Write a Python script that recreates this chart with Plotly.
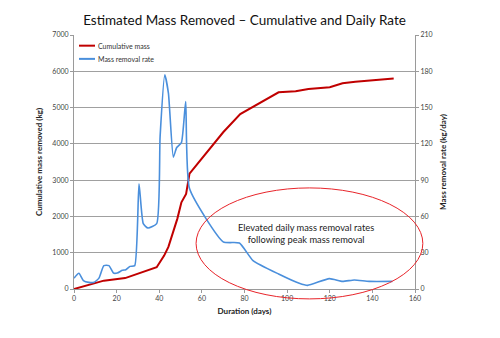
import plotly.graph_objects as go

# Cumulative mass removed (kg)
cum_days = [0, 14, 24, 30.5, 38.8, 42.3, 44.3, 48.5, 50.4, 52.6, 54.2, 70, 78, 96, 104, 110, 120, 126, 132, 150]
cum_mass = [0, 230, 300, 440, 600, 920, 1160, 1940, 2390, 2620, 3180, 4320, 4820, 5420, 5450, 5510, 5560, 5670, 5710, 5800]

# Mass removal rate (kg/day)
rate_days = [0, 2.3, 4.4, 7, 9.4, 11.7, 14, 16.4, 18.5, 20.3, 22.7, 24.3, 26.3, 28.5, 30.5, 32.5, 34.7, 38.8,
             40.4, 42.6, 44.3, 46.6, 48.2, 50.4, 52.4, 54.2, 70, 77.6, 84, 96, 105.7, 109.6, 119.8, 126, 131.5, 138.5, 149.4]
rate_vals = [9, 13, 7, 5.5, 5.5, 9, 19.3, 19.3, 13.2, 13.2, 15.4, 16, 18.7, 19.3, 87, 54, 50.4, 54,
             126, 177, 162, 109, 117, 121, 155, 83, 39, 38, 23.5, 12.4, 4.7, 3, 8.6, 6.3, 7.5, 6.3, 6.3]

x_ticks = [0, 20, 40, 60, 80, 100, 120, 140, 160]
series_names = ["Cumulative mass", "Mass removal rate"]
series_colors = ["#c00000", "#4a8fdc"]
title_text = "Estimated Mass Removed \u2013 Cumulative and Daily Rate"
note_text = "Elevated daily mass removal rates<br>following peak mass removal"

FONT = "Lato"
fig = go.Figure()
fig.add_trace(go.Scatter(x=cum_days, y=cum_mass, mode="lines", name=series_names[0],
                         line=dict(color=series_colors[0], width=2), showlegend=False))
fig.add_trace(go.Scatter(x=rate_days, y=rate_vals, mode="lines", name=series_names[1],
                         line=dict(color=series_colors[1], width=1.6, shape="spline", smoothing=0.5),
                         yaxis="y2", showlegend=False))

# compact legend (Excel style)
leg_y = [0.958, 0.906]
for name, col, ly in zip(series_names, series_colors, leg_y):
    fig.add_shape(type="line", xref="paper", yref="paper", x0=0.0147, x1=0.0616, y0=ly, y1=ly,
                  line=dict(color=col, width=2))
    fig.add_annotation(x=0.064, y=ly, xref="paper", yref="paper", text=name, showarrow=False,
                       xanchor="left", yanchor="middle", font=dict(family=FONT, size=7, color="#333"))

fig.add_shape(type="circle", xref="paper", yref="paper", x0=0.358, x1=1.023, y0=-0.039, y1=0.398,
              line=dict(color="#e8242a", width=1), layer="above")
fig.add_annotation(x=0.68, y=0.22, xref="paper", yref="paper", text=note_text, showarrow=False,
                   xanchor="center", yanchor="middle",
                   font=dict(family=FONT, size=9.3, color="#222"), align="center")

axis_common = dict(showline=True, linecolor="#9a9a9a", linewidth=1, ticks="outside", ticklen=3,
                   tickcolor="#9a9a9a", tickfont=dict(family=FONT, size=7, color="#444"))

fig.update_layout(
    width=500, height=338,
    margin=dict(l=74, r=85, t=35, b=49),
    paper_bgcolor="white", plot_bgcolor="white",
    title=dict(text=title_text, x=0.5, xanchor="center", y=0.94, yanchor="middle",
               xref="paper", font=dict(family=FONT, size=13.5, color="#111")),
    showlegend=False,
    xaxis=dict(range=[0, 160], tickvals=x_ticks, showgrid=False, zeroline=False,
               title=dict(text="<b>Duration (days)</b>", font=dict(family=FONT, size=8, color="#222"), standoff=6),
               **axis_common),
    yaxis=dict(range=[0, 7000], dtick=1000, showgrid=True, gridcolor="#a0a0a0", gridwidth=1, zeroline=False,
               title=dict(text="<b>Cumulative mass removed (kg)</b>", font=dict(family=FONT, size=8, color="#222"), standoff=8),
               **axis_common),
    yaxis2=dict(range=[0, 210], dtick=30, overlaying="y", side="right", showgrid=False, zeroline=False,
                title=dict(text="<b>Mass removal rate (kg/day)</b>", font=dict(family=FONT, size=8, color="#222"), standoff=8),
                **axis_common),
)

fig.write_html("out.html")
